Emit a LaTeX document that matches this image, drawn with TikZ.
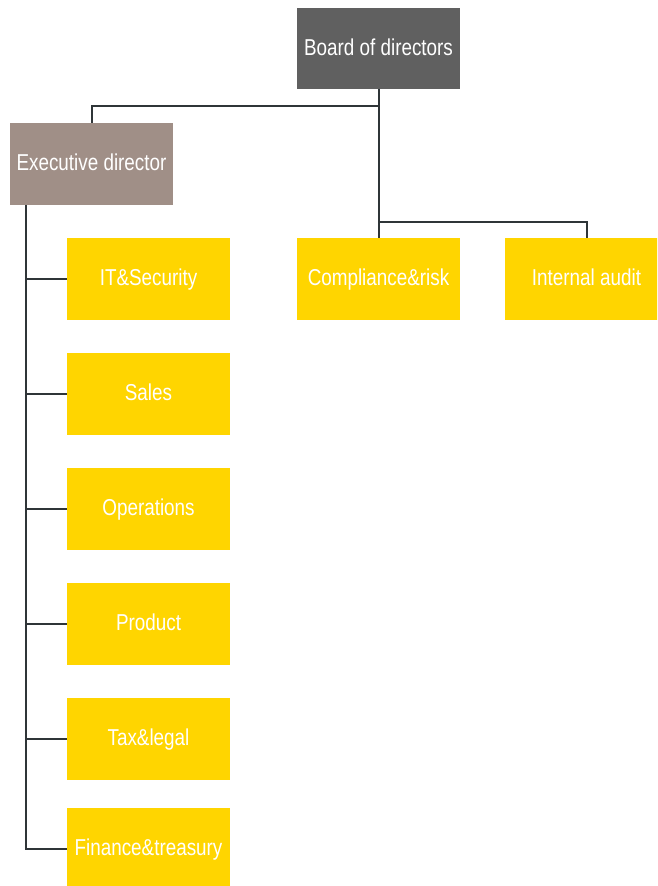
\documentclass[tikz,border=0pt]{standalone}
\usepackage{fontspec}
\setmainfont[FakeStretch=0.82]{Liberation Sans}
\begin{document}
\begin{tikzpicture}[x=1pt,y=-1pt,
  box/.style={rectangle,minimum width=163pt,minimum height=82pt,inner sep=0pt,text height=17pt,text depth=4pt,text=white,font=\fontsize{23}{26}\selectfont},
  yel/.style={box,fill=yboxc},
  conn/.style={draw=linec,line width=2pt}]
\definecolor{yboxc}{HTML}{FFD500}
\definecolor{linec}{HTML}{2F3538}
\definecolor{boardc}{HTML}{606060}
\definecolor{execc}{HTML}{A08F87}
\useasboundingbox (0,0) rectangle (657,886);
\clip (0,0) rectangle (657,886);
\node[box,fill=boardc,minimum height=81pt] (board) at (378.5,48.5) {Board of directors};
\node[box,fill=execc] (exec) at (91.5,164) {Executive director};
\node[yel] (comp) at (378.5,279) {Compliance\&risk};
\node[yel] (audit) at (586.5,279) {Internal audit};
\node[yel] (it) at (148.5,279) {IT\&Security};
\node[yel] (sales) at (148.5,394) {Sales};
\node[yel] (ops) at (148.5,509) {Operations};
\node[yel] (prod) at (148.5,624) {Product};
\node[yel] (tax) at (148.5,739) {Tax\&legal};
\node[yel] (fin) at (148.5,849) {Finance\&treasury};
\coordinate (j1) at (378.5,106);
\coordinate (j2) at (378.5,221.5);
\coordinate (tr) at (26,849);
\draw[conn] (board.south) -- (j1) -| (exec.north);
\draw[conn] (j1) -- (comp.north);
\draw[conn] (j2) -| (audit.north);
\draw[conn] (exec.south -| tr) -- (tr) -- (fin.west);
\foreach \n in {it,sales,ops,prod,tax}
  \draw[conn] (\n.west) -- (\n.west -| tr);
\end{tikzpicture}
\end{document}
